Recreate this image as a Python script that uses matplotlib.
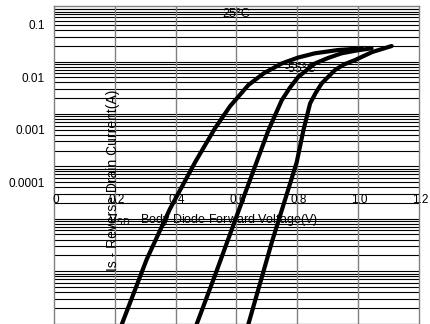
import numpy as np
import matplotlib
matplotlib.use("Agg")
import matplotlib.pyplot as plt
import matplotlib.transforms as mtransforms

plt.rcParams['font.family'] = ['Liberation Sans', 'DejaVu Sans']

# curve readings (V, A)
vf_hot = [0.223, 0.305, 0.381, 0.464, 0.529, 0.579, 0.639, 0.690, 0.749,
          0.802, 0.858, 0.934, 1.012]
is_hot = [9.7e-8, 1.69e-6, 1.53e-5, 1.2e-4, 5.3e-4, 1.41e-3, 3.56e-3, 6.0e-3,
          9.2e-3, 1.19e-2, 1.44e-2, 1.66e-2, 1.79e-2]

vf_mid = [0.469, 0.529, 0.597, 0.666, 0.705, 0.749, 0.776, 0.803, 0.858,
          0.901, 0.946, 0.993, 1.044]
is_mid = [9.7e-8, 8.2e-7, 9.9e-6, 1.2e-4, 4.9e-4, 1.84e-3, 3.2e-3, 5.1e-3,
          9.2e-3, 1.17e-2, 1.44e-2, 1.62e-2, 1.79e-2]

vf_cold = [0.639, 0.716, 0.798, 0.820, 0.842, 0.860, 0.880, 0.924, 0.953,
           0.990, 1.046, 1.110]
is_cold = [9.7e-8, 3.54e-6, 1.2e-4, 4.9e-4, 1.59e-3, 2.5e-3, 3.83e-3, 6.9e-3,
           8.8e-3, 1.07e-2, 1.52e-2, 1.98e-2]

xticks = [0, 0.2, 0.4, 0.6, 0.8, 1.0, 1.2]
xtick_labels = ['0', '0.2', '0.4', '0.6', '0.8', '1.0', '1.2']
ytick_pos = [5e-2, 5e-3, 5e-4, 5e-5]
ytick_labels = ['0.1', '0.01', '0.001', '0.0001']

fig = plt.figure(figsize=(4.3, 3.24), dpi=100)
ax = fig.add_axes([54/430, 0.5/324, 365/430, 317.5/324])

ax.set_yscale('log')
ax.set_xlim(0, 1.2)
ax.set_ylim(1e-7, 0.115)

# horizontal grid: decades + minors
for dec in range(-7, 0):
    for m in range(1, 10):
        v = m * 10.0**dec
        if 1e-7 < v < 0.115:
            ax.axhline(v, color='black', lw=0.8, zorder=1)
ax.axhline(0.1, color='black', lw=0.8, zorder=1)
for xv in xticks[1:-1]:
    ax.axvline(xv, color='#808080', lw=1.0, zorder=1)

for sp in ax.spines.values():
    sp.set_color('#808080')
    sp.set_linewidth(1.0)

for vf, cur in [(vf_hot, is_hot), (vf_mid, is_mid), (vf_cold, is_cold)]:
    ax.plot(vf, cur, color='black', lw=3, solid_capstyle='round',
            solid_joinstyle='round', zorder=3)

ax.set_xticks([])
ax.minorticks_off()
ax.set_yticks(ytick_pos)
ax.set_yticklabels(ytick_labels)
ax.tick_params(axis='y', length=0, pad=6.5, labelsize=8.5)
ax.yaxis.set_minor_locator(matplotlib.ticker.NullLocator())

trans = mtransforms.blended_transform_factory(ax.transData, ax.transAxes)
for xv, lab in zip(xticks, xtick_labels):
    ax.text(xv + 0.005, 0.389, lab, transform=trans, ha='center', va='center',
            fontsize=8.5, zorder=4)

ax.text(0.436, 0.326, 'V$_{\\mathrm{SD}}$ - Body Diode Forward Voltage(V)',
        transform=ax.transAxes, ha='center', va='center', fontsize=9, zorder=4)
ax.text(0.162, 0.452, 'Is - Reverse Drain Current(A)', rotation=90,
        transform=ax.transAxes, ha='center', va='center', fontsize=10, zorder=4)
ax.text(0.4986, 0.9748, '25°C', transform=ax.transAxes, ha='center',
        va='center', fontsize=9, zorder=4)
ax.text(0.675, 0.8016, '-55°C', transform=ax.transAxes, ha='center',
        va='center', fontsize=9, zorder=4)

fig.savefig('out.png', dpi=100)
